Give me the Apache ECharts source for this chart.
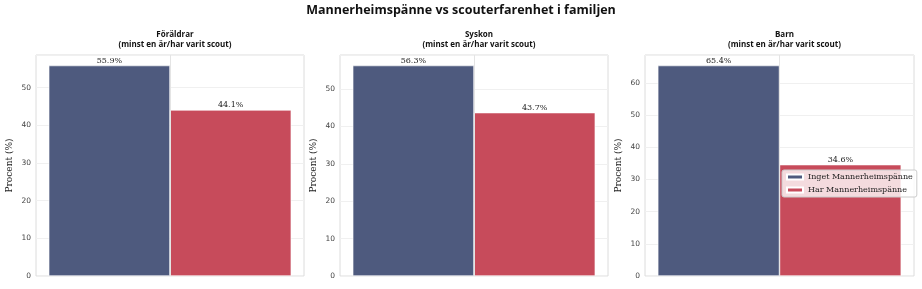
<!DOCTYPE html>
<html>
<head>
<meta charset="utf-8">
<script src="https://cdn.jsdelivr.net/npm/echarts@6/dist/echarts.min.js"></script>
<style>
html,body{margin:0;padding:0;background:#fff;}
#chart{width:922px;height:289px;}
</style>
</head>
<body>
<div id="chart"></div>
<script>
const mainTitle = 'Mannerheimspänne vs scouterfarenhet i familjen';
const panels = ['Föräldrar', 'Syskon', 'Barn'];
const panelSubtitle = '(minst en är/har varit scout)';
const seriesNames = ['Inget Mannerheimspänne', 'Har Mannerheimspänne'];
const ingetValues = [55.9, 56.3, 65.4];
const harValues = [44.1, 43.7, 34.6];
const yTickInterval = 10;
const yAxisTitle = 'Procent (%)';

const colors = ['#4e5a7e', '#c74b5b'];
const gridLefts = [36, 340, 645];
const gridWidths = [268, 268, 269];
const gridTop = 55, gridBottom = 13;

const chart = echarts.init(document.getElementById('chart'));

const grids = [], xAxes = [], yAxes = [], series = [], titles = [];
titles.push({
  text: mainTitle, left: 'center', top: -1,
  textStyle: {fontFamily: 'Open Sans', fontWeight: 'bold', fontSize: 12.5, color: '#111'}
});
panels.forEach((p, i) => {
  grids.push({left: gridLefts[i], width: gridWidths[i], top: gridTop, bottom: gridBottom,
    show: true, borderColor: '#dcdcdc', borderWidth: 1, backgroundColor: '#fff'});
  titles.push({
    text: p + '\n' + panelSubtitle,
    left: gridLefts[i] + gridWidths[i] / 2, top: 25, textAlign: 'center',
    textStyle: {fontFamily: 'Open Sans', fontWeight: 'bold', fontSize: 8, lineHeight: 10, color: '#111'}
  });
  xAxes.push({type: 'category', gridIndex: i, data: [p],
    axisLine: {show: false}, axisTick: {show: false}, axisLabel: {show: false}, splitLine: {show: false}});
  yAxes.push({type: 'value', gridIndex: i, min: 0, interval: yTickInterval,
    max: function (v) { return v.max * 1.05; },
    name: yAxisTitle, nameLocation: 'middle', nameGap: 22,
    nameTextStyle: {fontFamily: 'DejaVu Serif', fontSize: 9, color: '#222'},
    axisLine: {show: false}, axisTick: {show: false},
    axisLabel: {showMaxLabel: false, fontFamily: 'DejaVu Sans', fontSize: 7.5, color: '#444', margin: 5},
    splitLine: {show: true, lineStyle: {color: '#f0f0f0', width: 1}}});
  [ingetValues, harValues].forEach((vals, k) => {
    series.push({
      type: 'bar', name: seriesNames[k], xAxisIndex: i, yAxisIndex: i,
      data: [vals[i]], barGap: '0%', barCategoryGap: '9.5%', z: 3,
      itemStyle: {color: colors[k], borderColor: '#fff', borderWidth: 0.6},
      label: {show: true, position: 'top', distance: 1, formatter: (d) => d.value.toFixed(1) + '%',
        fontFamily: 'DejaVu Serif', fontSize: 8, color: '#222'}
    });
  });
  series.push({
    type: 'line', xAxisIndex: i, yAxisIndex: i, data: [], z: 1, silent: true,
    markLine: {silent: true, symbol: 'none', label: {show: false},
      lineStyle: {color: '#e4e4e4', width: 1, type: 'solid'}, data: [{xAxis: 0}], animation: false}
  });
});

chart.setOption({
  animation: false,
  title: titles,
  grid: grids,
  xAxis: xAxes,
  yAxis: yAxes,
  legend: {
    data: seriesNames, orient: 'vertical', left: 782, top: 170,
    backgroundColor: 'rgba(255,255,255,0.8)', borderColor: '#cccccc', borderWidth: 1, borderRadius: 2,
    padding: [3, 4, 3, 4], itemGap: 5, itemWidth: 16, itemHeight: 5, icon: 'rect',
    textStyle: {fontFamily: 'DejaVu Serif', fontSize: 8, color: '#222'}
  },
  series: series
});
</script>
</body>
</html>
